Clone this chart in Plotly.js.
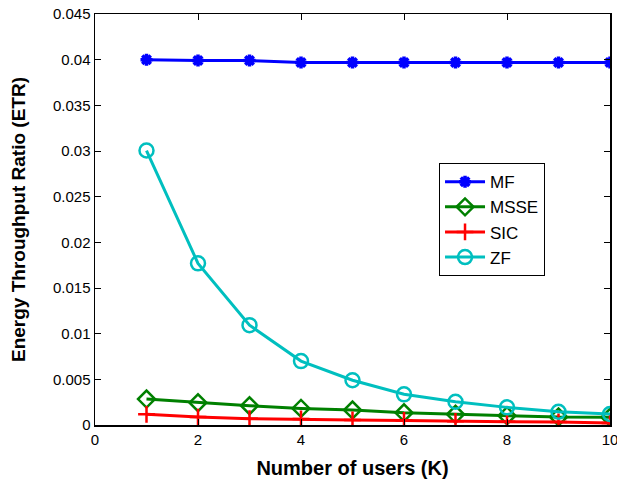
<!DOCTYPE html>
<html>
<head>
<meta charset="utf-8">
<script src="https://cdn.plot.ly/plotly-3.0.1.min.js"></script>
<style>html,body{margin:0;padding:0;background:#fff;}#chart{width:617px;height:485px;}</style>
</head>
<body>
<div id="chart"></div>
<script>
const users = [1, 2, 3, 4, 5, 6, 7, 8, 9, 10];
const mf   = [0.0400, 0.0399, 0.0399, 0.0397, 0.0397, 0.0397, 0.0397, 0.0397, 0.0397, 0.0397];
const msse = [0.00284, 0.00244, 0.00211, 0.00182, 0.00164, 0.00134, 0.00117, 0.00102, 0.00087, 0.00084];
const sic  = [0.00117, 0.00087, 0.00069, 0.00066, 0.00055, 0.00050, 0.00040, 0.00036, 0.00033, 0.00022];
const zf   = [0.03005, 0.0177, 0.01093, 0.0070, 0.0049, 0.00336, 0.00255, 0.00193, 0.00145, 0.0012];
const seriesNames = ['MF', 'MSSE', 'SIC', 'ZF'];
const xTicks = [0, 2, 4, 6, 8, 10];
const yTicks = [0, 0.005, 0.01, 0.015, 0.02, 0.025, 0.03, 0.035, 0.04, 0.045];
const yTickText = ['0', '0.005', '0.01', '0.015', '0.02', '0.025', '0.03', '0.035', '0.04', '0.045'];

const traces = [
  {x: users, y: mf, name: seriesNames[0], mode: 'lines+markers',
   line: {color: '#0000ff', width: 3},
   marker: {symbol: 'asterisk-open', size: 10, color: '#0000ff', line: {color: '#0000ff', width: 3.5}}},
  {x: users, y: msse, name: seriesNames[1], mode: 'lines+markers',
   line: {color: '#008000', width: 3},
   marker: {symbol: 'diamond-open', size: 13, color: '#008000', line: {color: '#008000', width: 2.5}}},
  {x: users, y: sic, name: seriesNames[2], mode: 'lines+markers',
   line: {color: '#ff0000', width: 3},
   marker: {symbol: 'cross-thin-open', size: 12, color: '#ff0000', line: {color: '#ff0000', width: 2.5}}},
  {x: users, y: zf, name: seriesNames[3], mode: 'lines+markers',
   line: {color: '#00bfbf', width: 3},
   marker: {symbol: 'circle-open', size: 14, color: '#00bfbf', line: {color: '#00bfbf', width: 2.5}}}
];

const layout = {
  width: 617, height: 485,
  margin: {l: 95, r: 7, t: 14, b: 60},
  paper_bgcolor: '#fff', plot_bgcolor: '#fff',
  font: {family: 'Liberation Sans, Arial, sans-serif', size: 15, color: '#000'},
  showlegend: true,
  legend: {x: 0.668, y: 0.637, xanchor: 'left', yanchor: 'top',
           bordercolor: '#000', borderwidth: 1, bgcolor: '#fff',
           font: {size: 17}, tracegroupgap: 0, itemwidth: 40},
  xaxis: {range: [0, 10], tickvals: xTicks, ticktext: xTicks.map(String),
          ticks: 'inside', ticklen: 6, tickwidth: 1, tickcolor: '#000',
          ticklabeloverflow: 'allow',
          showline: true, linecolor: '#000', linewidth: 1.5, mirror: 'ticks',
          showgrid: false, zeroline: false, automargin: false,
          title: {text: '<b>Number of users (K)</b>', font: {size: 20}, standoff: 14}},
  yaxis: {range: [0, 0.045], tickvals: yTicks, ticktext: yTickText,
          ticks: 'inside', ticklen: 6, tickwidth: 1, tickcolor: '#000',
          ticklabeloverflow: 'allow',
          showline: true, linecolor: '#000', linewidth: 1.5, mirror: 'ticks',
          showgrid: false, zeroline: false, automargin: false,
          title: {text: '<b>Energy Throughput Ratio (ETR)</b>', font: {size: 19}, standoff: 22}}
};

Plotly.newPlot('chart', traces, layout, {displayModeBar: false, staticPlot: true});
</script>
</body>
</html>
